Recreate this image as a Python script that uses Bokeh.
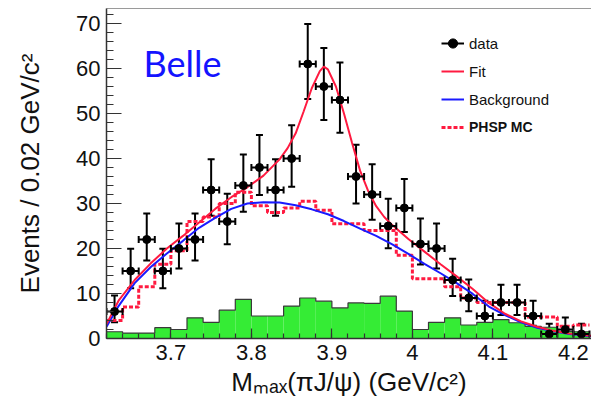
import numpy as np
from bokeh.plotting import figure
from bokeh.models import (ColumnDataSource, Range1d, FixedTicker, LinearAxis, Label,
                          Legend, LegendItem, Whisker, TeeHead)
from bokeh.embed import file_html
from bokeh.resources import INLINE

# Binning of the M_max(pi J/psi) histograms, GeV/c^2
bin_lo = 3.62
bin_width = 0.02
n_bins = 30

# Observed events per bin with asymmetric Poisson errors
events = [6, 15, 22, 15, 20, 22, 33, 26, 34, 38, 33, 40, 61, 56, 53,
          36, 32, 25, 29, 21, 20, 13, 9, 5, 8, 8, 5, 1, 2, 1]
err_lo = [2.38, 3.84, 4.66, 3.84, 4.44, 4.66, 5.72, 5.07, 5.81, 6.14, 5.72, 6.30, 7.79, 7.47, 7.26,
          5.98, 5.63, 4.97, 5.36, 4.56, 4.44, 3.57, 2.94, 2.16, 2.77, 2.77, 2.16, 0.83, 1.29, 0.83]
err_hi = [3.58, 4.97, 5.77, 4.97, 5.56, 5.77, 6.81, 6.17, 6.89, 7.22, 6.81, 7.38, 8.86, 8.53, 8.33,
          7.06, 6.72, 6.07, 6.45, 5.66, 5.56, 4.71, 4.11, 3.38, 3.95, 3.95, 3.38, 2.30, 2.64, 2.30]

# Phase-space MC shape (normalised)
phsp_mc = [4.0, 7.0, 11.5, 16.5, 19.5, 26.0, 27.0, 30.0, 32.5, 29.5, 28.0, 29.0, 30.5, 28.5, 25.5,
           25.5, 24.0, 24.0, 18.5, 13.3, 13.3, 11.5, 9.0, 8.0, 8.0, 8.0, 4.8, 4.8, 2.7, 3.0]

# J/psi sideband events
sideband = [1.5, 1.2, 1.2, 2.4, 2.0, 4.6, 3.6, 6.3, 8.7, 5.0, 5.0, 7.2, 9.0, 8.3, 6.8,
            7.9, 7.8, 9.4, 6.1, 2.0, 3.6, 4.6, 3.0, 3.6, 4.2, 3.5, 2.7, 2.5, 1.6, 1.5]

# Background component of the fit
bkg_x = [3.62, 3.635, 3.655, 3.675, 3.695, 3.715, 3.735, 3.755, 3.775, 3.795, 3.815, 3.835,
         3.855, 3.875, 3.895, 3.915, 3.935, 3.955, 3.975, 3.995, 4.015, 4.035, 4.055, 4.075,
         4.095, 4.115, 4.135, 4.155, 4.175, 4.195, 4.2225]
bkg_y = [2.6, 7.2, 12.3, 15.9, 18.9, 21.7, 24.6, 26.8, 28.8, 30.0, 30.3, 30.2,
         29.6, 28.7, 27.6, 26.1, 24.4, 22.8, 20.9, 18.8, 16.6, 14.5, 12.3, 9.9,
         7.1, 5.2, 3.6, 2.4, 1.6, 1.0, 0.5]

# Total fit (signal + background)
fit_x = [3.62, 3.635, 3.655, 3.675, 3.695, 3.715, 3.735, 3.755, 3.775, 3.795, 3.815, 3.835,
         3.845, 3.855, 3.865, 3.875, 3.885, 3.89, 3.895, 3.905, 3.915, 3.925, 3.935, 3.945,
         3.955, 3.965, 3.975, 3.995, 4.015, 4.035, 4.055, 4.075, 4.095, 4.115, 4.135, 4.155,
         4.175, 4.195, 4.2225]
fit_y = [3.2, 8.4, 13.0, 16.7, 20.0, 22.8, 25.8, 28.8, 31.4, 33.6, 36.2, 39.8,
         42.3, 45.6, 50.5, 55.6, 59.4, 60.4, 59.8, 56.0, 50.0, 43.5, 37.3, 32.8,
         29.4, 27.0, 25.2, 22.1, 19.3, 16.5, 13.8, 11.0, 7.9, 5.5, 3.8, 2.6,
         1.7, 1.1, 0.6]

x_ticks = [3.7, 3.8, 3.9, 4.0, 4.1, 4.2]
x_tick_labels = ["3.7", "3.8", "3.9", "4", "4.1", "4.2"]
y_ticks = [0, 10, 20, 30, 40, 50, 60, 70]
y_tick_labels = ["0", "10", "20", "30", "40", "50", "60", "70"]

edges = bin_lo + bin_width * np.arange(n_bins + 1)
centers = edges[:-1] + bin_width / 2

FONT = "Liberation Sans"
RED = "#ff1a40"
BLUE = "#1a1aff"

p = figure(width=591, height=403, x_range=Range1d(3.62, 4.2225), y_range=Range1d(0, 73.33),
           output_backend="svg", toolbar_location=None,
           min_border_left=106, min_border_right=0, min_border_top=8, min_border_bottom=65,
           background_fill_color="white", border_fill_color="white", outline_line_color=None)
p.grid.visible = False

# sideband histogram: filled bins plus outline
p.quad(left=edges[:-1], right=edges[1:], bottom=0, top=sideband,
       fill_color="#35ec35", line_color=None)
p.step(x=edges, y=sideband + [sideband[-1]], mode="after", line_color="#3a3a3a", line_width=1.2)

# phase-space MC
phsp_r = p.step(x=edges, y=phsp_mc + [phsp_mc[-1]], mode="after",
                line_color=RED, line_width=3, line_dash="4 2")

# fit curves
bkg_r = p.line(bkg_x, bkg_y, line_color=BLUE, line_width=2)
fit_r = p.line(fit_x, fit_y, line_color=RED, line_width=2)

# data points with error bars
ev = np.array(events, dtype=float)
src = ColumnDataSource(dict(
    x=centers, y=ev,
    lower=ev - np.array(err_lo), upper=ev + np.array(err_hi),
    left=centers - bin_width / 2, right=centers + bin_width / 2,
))
p.add_layout(Whisker(source=src, base="x", lower="lower", upper="upper", dimension="height",
                     line_color="black", line_width=2,
                     upper_head=TeeHead(size=7, line_color="black", line_width=2),
                     lower_head=TeeHead(size=7, line_color="black", line_width=2)))
hbar_r = p.segment(x0="left", y0="y", x1="right", y1="y", source=src,
                   line_color="black", line_width=2)
p.scatter(x="left", y="y", source=src, marker="dash", angle=np.pi / 2, size=7,
          line_color="black", line_width=2)
capr_r = p.scatter(x="right", y="y", source=src, marker="dash", angle=np.pi / 2, size=7,
                   line_color="black", line_width=2)
dot_r = p.scatter(x="x", y="y", source=src, marker="circle", size=8,
                  fill_color="black", line_color="black")

# axes
xa = p.xaxis[0]
xa.ticker = FixedTicker(ticks=x_ticks, minor_ticks=list(edges))
xa.major_label_overrides = {t: s for t, s in zip(x_ticks, x_tick_labels)}
xa.major_tick_in = 10
xa.major_tick_out = 0
xa.minor_tick_in = 5
xa.minor_tick_out = 0
xa.major_label_standoff = 6
xa.axis_label = "Mₘₐₓ(πJ/ψ) (GeV/c²)"
xa.axis_label_standoff = 4
xa.axis_label_text_font_size = "26px"

ya = p.yaxis[0]
ya.ticker = FixedTicker(ticks=y_ticks, minor_ticks=list(range(0, 74, 2)))
ya.major_label_overrides = {t: s for t, s in zip(y_ticks, y_tick_labels)}
ya.major_tick_in = 15
ya.major_tick_out = 0
ya.minor_tick_in = 7
ya.minor_tick_out = 0
ya.major_label_standoff = 6
ya.axis_label = "Events / 0.02 GeV/c²"
ya.axis_label_standoff = 28
ya.axis_label_text_font_size = "26px"

for ax in (xa, ya):
    ax.axis_line_color = "#333333"
    ax.axis_line_width = 1.5
    ax.major_tick_line_color = "#333333"
    ax.minor_tick_line_color = "#333333"
    ax.major_tick_line_width = 1.2
    ax.minor_tick_line_width = 1.2
    ax.major_label_text_font = FONT
    ax.major_label_text_font_size = "22px"
    ax.major_label_text_color = "#111111"
    ax.axis_label_text_font = FONT
    ax.axis_label_text_font_style = "normal"
    ax.axis_label_text_color = "#111111"

top_axis = LinearAxis(ticker=FixedTicker(ticks=[]), major_label_text_font_size="0px",
                      major_tick_in=0, major_tick_out=0, minor_tick_in=0, minor_tick_out=0,
                      major_label_standoff=0, axis_line_color="#9a9a9a", axis_line_width=1.2)
p.add_layout(top_axis, "above")

p.add_layout(Label(x=37, y=276, x_units="screen", y_units="screen", text="Belle",
                   text_font="Lato", text_font_size="36px", text_color="#1414ff",
                   text_baseline="alphabetic"))

# legends
def style_legend(lg):
    lg.border_line_color = None
    lg.background_fill_alpha = 0
    lg.padding = 0
    lg.margin = 0
    lg.spacing = 0
    lg.glyph_width = 23
    lg.glyph_height = 28
    lg.label_height = 28
    lg.label_standoff = 5
    lg.label_text_font = FONT
    lg.label_text_color = "#111111"

leg_a = Legend(items=[LegendItem(label="data", renderers=[hbar_r, capr_r, dot_r]),
                      LegendItem(label="Fit", renderers=[fit_r]),
                      LegendItem(label="Background", renderers=[bkg_r])],
               location=(335, 225))
style_legend(leg_a)
leg_a.label_text_font_size = "15px"

leg_b = Legend(items=[LegendItem(label="PHSP MC", renderers=[phsp_r])], location=(335, 197))
style_legend(leg_b)
leg_b.label_text_font_size = "14px"
leg_b.label_text_font_style = "bold"

p.add_layout(leg_a)
p.add_layout(leg_b)

open("out.html", "w").write(file_html(p, INLINE))
